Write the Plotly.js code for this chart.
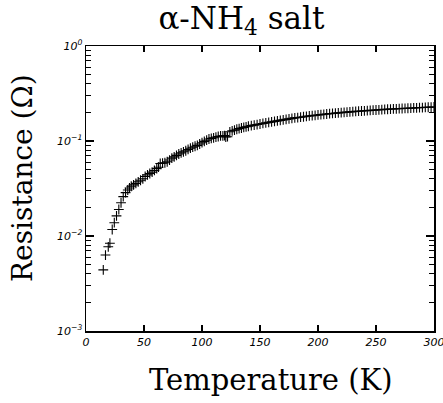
<!DOCTYPE html>
<html>
<head>
<meta charset="utf-8">
<script src="https://cdn.plot.ly/plotly-3.0.1.min.js"></script>
<style>html,body{margin:0;padding:0;background:#fff}#chart{width:443px;height:403px}</style>
</head>
<body>
<div id="chart"></div>
<script>
// Temperature (K)
var temperature = [14.9,16.8,19.2,20.6,22.6,24.4,26.3,28.3,30.2,32.1,34.1,36.0,37.5,39.0,
41,43,45,47,49,51,53,55,57,59,61,62.5,64,66,68,70,72,74,76,78,80,82,84,86,88,90,92,94,96,98,
100,102,104,106,108,110,112,114,116,118,119.5,120.5,122,124,126,128,130,132,134,136,138,140,
142.5,145,147.5,150,152.5,155,157.5,160,162.5,165,167.5,170,172.5,175,177.5,180,182.5,185,187.5,
190,192.5,195,197.5,200,202.5,205,207.5,210,212.5,215,217.5,220,222.5,225,227.5,230,232.5,235,
237.5,240,242.5,245,247.5,250,252.5,255,257.5,260,262.5,265,267.5,270,272.5,275,277.5,280,282.5,
285,287.5,290,292.5,295,297.5,300];
// Resistance (Ohm)
var resistance = [0.0044,0.0063,0.0077,0.0084,0.0117,0.0138,0.0163,0.019,0.0224,0.026,0.0286,0.0305,0.032,0.0334,
0.0345,0.0358,0.0372,0.0386,0.040,0.0423,0.044,0.0455,0.047,0.049,0.0512,0.053,0.058,0.0585,0.059,0.0605,0.063,0.066,0.068,0.0705,0.073,0.075,0.077,0.079,0.0815,0.084,0.086,0.088,0.090,0.093,
0.096,0.099,0.102,0.105,0.1065,0.108,0.110,0.1115,0.113,0.1135,0.114,0.110,0.111,0.125,0.128,0.130,0.133,0.135,0.137,0.139,0.141,0.143,
0.145,0.147,0.149,0.151,0.153,0.155,0.157,0.159,0.161,0.163,0.165,0.167,0.169,0.171,0.173,0.175,0.1765,0.178,0.180,
0.182,0.1835,0.185,0.1865,0.188,0.1895,0.191,0.1925,0.194,0.195,0.1965,0.1978,0.199,0.200,0.2015,0.2028,0.204,0.205,0.206,
0.207,0.208,0.209,0.210,0.211,0.212,0.213,0.214,0.215,0.216,0.2168,0.2175,0.2183,0.219,0.2198,0.2205,0.2213,0.222,0.2228,
0.2235,0.2243,0.225,0.2258,0.2265,0.2273,0.228];

var xTickVals = [0,50,100,150,200,250,300];
var xTickText = ['0','50','100','150','200','250','300'];
var yTickVals = [0.001,0.01,0.1,1];
var yTickText = ['10<sup>−3</sup>','10<sup>−2</sup>','10<sup>−1</sup>','10<sup>0</sup>'];
var yMinorVals = [];
[0.001,0.01,0.1].forEach(function(d){ for (var k=2;k<=9;k++) yMinorVals.push(d*k); });
var xTitle = 'Temperature (K)';
var yTitle = 'Resistance (Ω)';
var chartTitle = 'α-NH<sub>4</sub> salt';

var tickFont = {family:'DejaVu Sans', size:11, color:'#000', style:'italic'};
var serifFont = 'DejaVu Serif';

var trace = {
  x: temperature, y: resistance, type:'scatter', mode:'markers',
  marker:{symbol:'cross-thin-open', size:7, color:'#000', line:{color:'#000', width:1.1}},
  showlegend:false, hoverinfo:'skip'
};

var layout = {
  width:443, height:403,
  margin:{l:86, r:9, t:46, b:72},
  paper_bgcolor:'#fff', plot_bgcolor:'#fff',
  title:{text:chartTitle, font:{family:serifFont, size:31, color:'#000'},
         x:0.545, xref:'container', xanchor:'center', y:0.955, yref:'container', yanchor:'middle'},
  xaxis:{range:[0,300], tickvals:xTickVals, ticktext:xTickText, tickfont:tickFont,
         ticklabeloverflow:'allow',
         ticks:'inside', ticklen:6, tickwidth:1.2, tickcolor:'#000',
         showline:true, linecolor:'#000', linewidth:1.5, mirror:'allticks',
         showgrid:false, zeroline:false, automargin:false},
  yaxis:{type:'log', range:[-3,0], tickvals:yTickVals, ticktext:yTickText, tickfont:tickFont,
         ticks:'inside', ticklen:8, tickwidth:1.2, tickcolor:'#000',
         minor:{tickmode:'array', tickvals:yMinorVals, ticks:'inside', ticklen:5, tickwidth:1, tickcolor:'#000', showgrid:false},
         showline:true, linecolor:'#000', linewidth:1.5, mirror:'allticks',
         showgrid:false, zeroline:false, automargin:false},
  annotations:[
    {text:xTitle, xref:'paper', yref:'paper', x:0.532, y:-0.172, xanchor:'center', yanchor:'middle',
     showarrow:false, font:{family:serifFont, size:29, color:'#000'}},
    {text:yTitle, xref:'paper', yref:'paper', x:-0.181, y:0.537, xanchor:'center', yanchor:'middle',
     textangle:-90, showarrow:false, font:{family:serifFont, size:28, color:'#000'}}
  ]
};

Plotly.newPlot('chart', [trace], layout, {displayModeBar:false, staticPlot:true});
</script>
</body>
</html>
